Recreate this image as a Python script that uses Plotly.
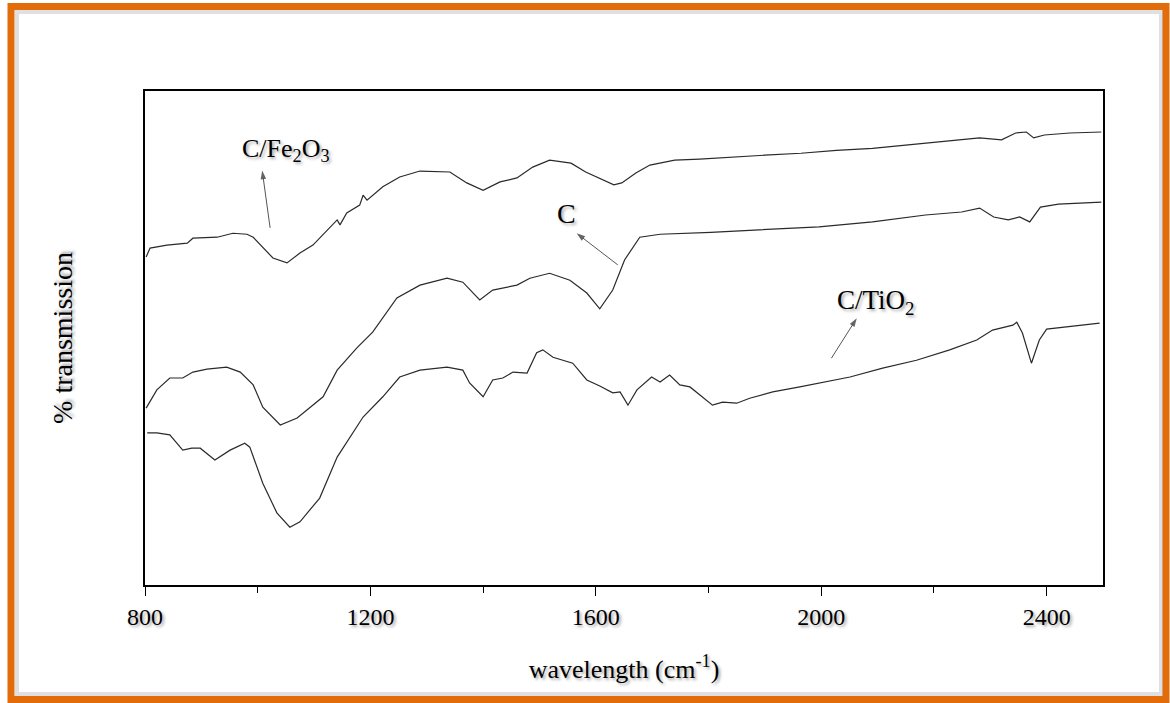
import plotly.graph_objects as go

# wavenumber (cm^-1) and relative transmission (arbitrary units)
fe_x = [802, 809, 839, 875, 885, 928, 956, 981, 992, 1009, 1027, 1052, 1075, 1098, 1128, 1141,
        1146, 1158, 1181, 1187, 1194, 1222, 1252, 1288, 1341, 1371, 1400, 1430, 1460, 1488,
        1518, 1556, 1582, 1632, 1646, 1671, 1696, 1740, 1784, 1836, 1900, 1964, 2027, 2091,
        2153, 2217, 2281, 2320, 2345, 2364, 2377, 2396, 2441, 2497]
fe_y = [66.4, 68.2, 68.8, 69.2, 70.2, 70.4, 71.2, 71.0, 70.4, 68.4, 66.2, 65.2, 67.2, 68.8, 72.5,
        73.9, 72.9, 75.3, 76.9, 78.9, 77.9, 80.6, 82.6, 83.8, 83.6, 81.4, 79.9, 81.6, 82.4, 84.6,
        86.0, 85.4, 83.6, 81.0, 81.4, 83.4, 85.0, 86.0, 86.2, 86.6, 87.0, 87.4, 88.0, 88.4,
        89.1, 89.7, 90.5, 90.1, 91.5, 91.7, 90.5, 91.1, 91.5, 91.7]

c_x = [802, 821, 844, 867, 885, 910, 945, 969, 992, 1009, 1040, 1070, 1116, 1141, 1176, 1204,
       1247, 1288, 1336, 1364, 1394, 1417, 1460, 1483, 1518, 1554, 1584, 1607, 1630, 1651,
       1678, 1714, 1804, 1900, 1996, 2091, 2185, 2249, 2281, 2306, 2332, 2352, 2370, 2389,
       2421, 2497]
c_y = [35.8, 39.5, 41.9, 41.9, 43.1, 43.7, 44.1, 43.1, 40.5, 36.0, 32.4, 33.8, 38.1, 43.5, 48.0,
       51.2, 58.1, 60.7, 62.1, 61.3, 57.7, 59.7, 60.7, 62.1, 63.1, 61.7, 59.1, 55.9, 59.7, 65.8,
       70.4, 71.0, 71.4, 71.9, 72.5, 73.5, 74.9, 75.5, 76.3, 74.5, 73.9, 74.5, 73.5, 76.5,
       77.1, 77.5]

ti_x = [804, 821, 844, 867, 883, 898, 924, 951, 977, 986, 1009, 1034, 1057, 1075, 1110, 1141,
        1187, 1222, 1252, 1288, 1336, 1364, 1376, 1400, 1417, 1435, 1453, 1478, 1495, 1506,
        1524, 1541, 1559, 1584, 1607, 1630, 1643, 1657, 1673, 1699, 1714, 1731, 1749, 1767,
        1784, 1807, 1825, 1850, 1873, 1914, 1962, 2020, 2051, 2109, 2169, 2228, 2276, 2304,
        2340, 2347, 2357, 2373, 2387, 2400, 2435, 2494]
ti_y = [30.8, 30.8, 30.4, 27.3, 27.7, 27.7, 25.3, 27.3, 28.7, 27.9, 20.6, 14.6, 11.7, 12.8, 17.6,
        25.9, 34.0, 38.1, 42.1, 43.5, 44.1, 43.5, 40.9, 38.1, 41.5, 41.9, 43.1, 42.9, 47.0, 47.6,
        46.1, 45.5, 44.9, 41.5, 40.3, 38.9, 39.1, 36.4, 39.5, 42.1, 41.1, 42.5, 40.5, 40.1,
        38.5, 36.4, 37.0, 36.8, 37.8, 39.1, 40.1, 41.5, 42.1, 43.9, 45.5, 47.6, 49.6, 51.6,
        52.6, 53.2, 51.0, 44.9, 49.6, 51.8, 52.2, 53.0]

series_names = ["C/Fe2O3", "C", "C/TiO2"]
major_ticks = [800, 1200, 1600, 2000, 2400]
tick_labels = ["800", "1200", "1600", "2000", "2400"]

FONT = "Liberation Serif"
SHADOW = "2px 2px 3px rgba(0,0,0,0.35)"
line_style = dict(color="#2a2a2a", width=1.2)

fig = go.Figure()
for name, xs, ys in zip(series_names, [fe_x, c_x, ti_x], [fe_y, c_y, ti_y]):
    fig.add_trace(go.Scatter(x=xs, y=ys, mode="lines", name=name, line=line_style,
                             showlegend=False, hoverinfo="skip"))

# labels
labels = [
    ("C/Fe<sub>2</sub>O<sub>3</sub>", 1050, 88.0, 26),
    ("C", 1548, 75.3, 28),
    ("C/TiO<sub>2</sub>", 2098, 57.3, 27),
]
for txt, x, y, sz in labels:
    fig.add_annotation(x=x, y=y, text=txt, showarrow=False,
                       font=dict(family=FONT, size=sz, color="black", shadow=SHADOW))

# pointer arrows (tail -> head), drawn as lines with an arrow marker at the head
arrows = [
    ((1022, 72.3), (1008, 83.9)),
    ((1639, 64.8), (1566, 71.2)),
    ((2018, 45.9), (2063, 54.0)),
]
for (tx, ty), (hx, hy) in arrows:
    fig.add_trace(go.Scatter(
        x=[tx, hx], y=[ty, hy], mode="lines+markers", showlegend=False, hoverinfo="skip",
        line=dict(color="#555", width=1),
        marker=dict(symbol="arrow", size=[0, 9], angleref="previous", color="#222",
                    line=dict(width=0)),
    ))

# orange frame
fig.add_shape(type="rect", xref="paper", yref="paper",
              x0=(11 - 145) / 958, x1=(1166 - 145) / 958,
              y0=(585 - 699.5) / 494, y1=(585 - 6.5) / 494,
              line=dict(color="#E36C0A", width=7), layer="below")
fig.add_shape(type="rect", xref="paper", yref="paper",
              x0=(17 - 145) / 958, x1=(1161 - 145) / 958,
              y0=(585 - 694) / 494, y1=(585 - 12) / 494,
              line=dict(color="rgba(0,0,0,0.12)", width=4), layer="below")

fig.update_layout(
    width=1170, height=703,
    margin=dict(l=145, r=67, t=91, b=118),
    paper_bgcolor="white", plot_bgcolor="white",
    font=dict(family=FONT, color="black"),
    xaxis=dict(range=[800, 2500], tickvals=major_ticks, ticktext=tick_labels,
               ticks="outside", ticklen=9, tickwidth=1.2, tickcolor="black",
               minor=dict(tickvals=[1000, 1400, 1800, 2200], ticks="outside", ticklen=6,
                          tickwidth=1.2, tickcolor="black"),
               showline=True, linecolor="black", linewidth=2, mirror=True,
               showgrid=False, zeroline=False,
               tickfont=dict(family=FONT, size=24, color="black", shadow=SHADOW),
               title=dict(text="wavelength (cm<sup>-1</sup>)", standoff=31,
                          font=dict(family=FONT, size=26, color="black", shadow=SHADOW))),
    yaxis=dict(range=[0, 100], showticklabels=False, ticks="",
               showline=True, linecolor="black", linewidth=2, mirror=True,
               showgrid=False, zeroline=False,
               title=dict(text="% transmission", standoff=62,
                          font=dict(family=FONT, size=28, color="black", shadow=SHADOW))),
)

fig.write_html("out.html", config={"displayModeBar": False},
               post_script="document.body.style.margin='0';")
